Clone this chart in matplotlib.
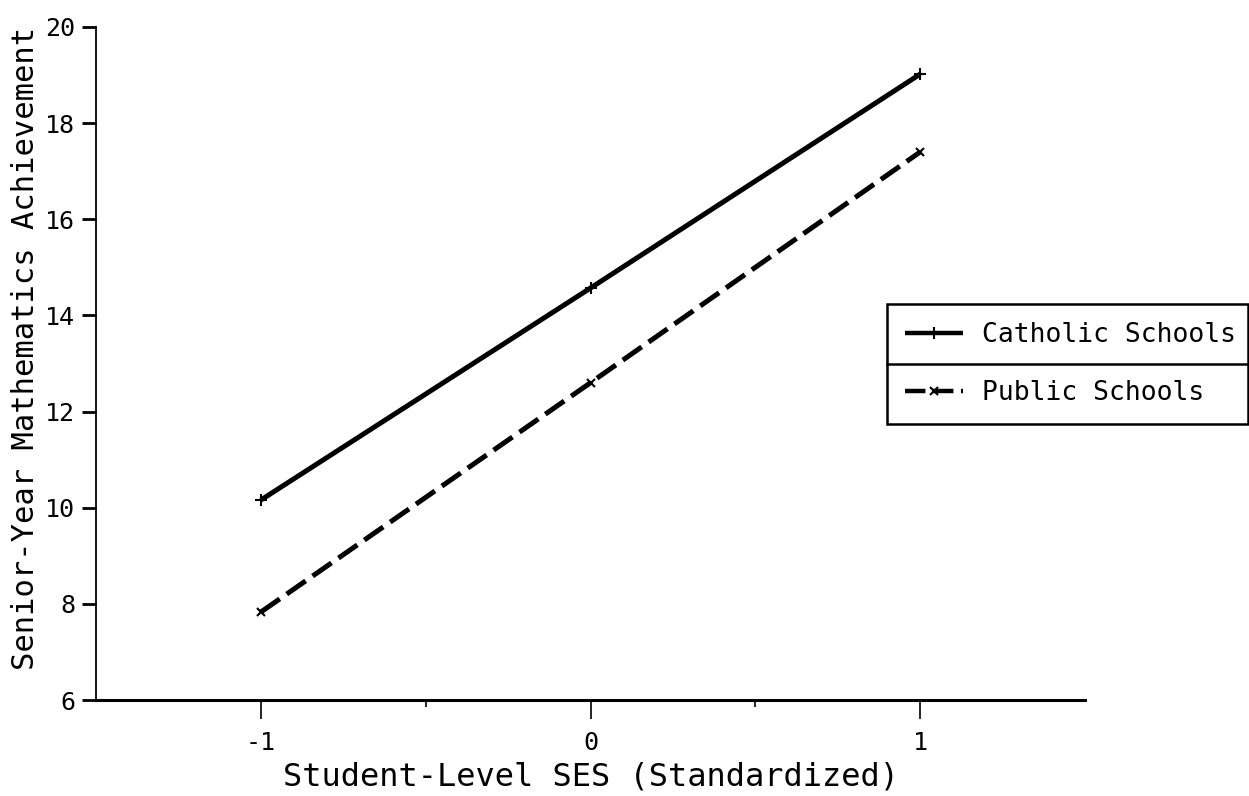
"""
Catholic vs public school maths achievement by student SES
recreated as a plain matplotlib line chart.
"""

import matplotlib
matplotlib.use("Agg")
import matplotlib.pyplot as plt
from matplotlib.lines import Line2D

# ---------------------------------------------------------------------------
# Data
# ---------------------------------------------------------------------------

SES_LEVELS = [-1, 0, 1]
CATHOLIC = [10.16, 14.57, 19.02]
PUBLIC = [7.83, 12.6, 17.4]

X_TICKS = [-1, 0, 1]
X_MINOR = [-0.5, 0.5]
Y_TICKS = [6, 8, 10, 12, 14, 16, 18, 20]

FONT = "DejaVu Sans Mono"
OUT_FILE = "out.png"


# ---------------------------------------------------------------------------
# Chart
# ---------------------------------------------------------------------------

def draw_chart(path: str = OUT_FILE) -> None:
    fig = plt.figure(figsize=(12.49, 7.96), dpi=100)
    ax = fig.add_axes([0.0769, 0.1206, 0.7918, 0.8455])

    cath, = ax.plot(SES_LEVELS, CATHOLIC, color="black", lw=3.6,
                    marker="+", ms=9, mew=1.5, solid_capstyle="butt",
                    label="Catholic Schools")
    pub, = ax.plot(SES_LEVELS, PUBLIC, color="black", lw=3.6,
                   marker="x", ms=6, mew=1.5, dashes=(4.6, 1.7),
                   dash_capstyle="butt", label="Public Schools")

    ax.set_xlim(-1.5, 1.5)
    ax.set_ylim(6, 20)
    ax.set_xticks(X_TICKS)
    ax.set_xticks(X_MINOR, minor=True)
    ax.set_xticklabels(["-1", "0", "1"])
    ax.set_yticks(Y_TICKS)

    for side in ("top", "right"):
        ax.spines[side].set_visible(False)
    ax.spines["left"].set_linewidth(1.3)
    ax.spines["bottom"].set_linewidth(2.2)

    ax.tick_params(axis="y", direction="out", length=10, width=2.0, pad=5,
                   labelsize=18)
    ax.tick_params(axis="x", which="major", direction="out", length=14,
                   width=1.2, pad=8, labelsize=18)
    ax.tick_params(axis="x", which="minor", direction="out", length=5,
                   width=1.2)
    for lab in ax.get_xticklabels() + ax.get_yticklabels():
        lab.set_family(FONT)

    ax.set_xlabel("Student-Level SES (Standardized)", family=FONT,
                  fontsize=23, va="center")
    ax.set_ylabel("Senior-Year Mathematics Achievement", family=FONT,
                  fontsize=22, va="center")
    ax.xaxis.set_label_coords(0.5, -0.114)
    ax.yaxis.set_label_coords(-0.071, 0.523)

    # legend box at the right, two rows split by a rule
    leg = ax.legend(handles=[cath, pub], loc="center",
                    bbox_to_anchor=(0.710, 0.466, 0.289, 0.153),
                    bbox_transform=fig.transFigure, mode="expand",
                    prop={"family": FONT, "size": 19},
                    frameon=True, fancybox=False, edgecolor="black",
                    borderaxespad=0, borderpad=0.7, labelspacing=1.2,
                    handlelength=2.2, handletextpad=0.7)
    leg.get_frame().set_linewidth(1.8)
    leg.get_frame().set_alpha(1)
    for h in leg.legend_handles:
        h.set_linewidth(3.2)

    fig.canvas.draw()
    box = leg.get_frame().get_window_extent().transformed(
        fig.transFigure.inverted())
    mid = (box.y0 + box.y1) / 2
    fig.add_artist(Line2D([box.x0, box.x1], [mid, mid], color="black",
                          lw=1.8, transform=fig.transFigure))

    fig.savefig(path, dpi=100)
    plt.close(fig)


def main():
    draw_chart()


if __name__ == "__main__":
    main()
